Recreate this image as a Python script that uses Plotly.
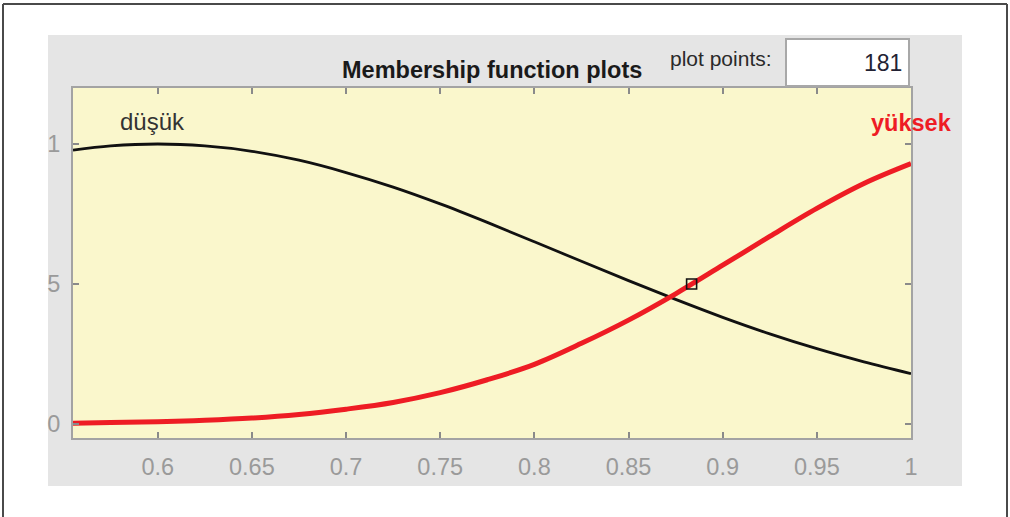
import plotly.graph_objects as go

# Input variable grid and the two membership functions
x_vals = [0.555, 0.575, 0.6, 0.625, 0.65, 0.675, 0.7, 0.725, 0.75, 0.775,
          0.8, 0.825, 0.85, 0.875, 0.9, 0.925, 0.95, 0.975, 1.0]
dusuk = [0.978, 0.993, 1.0, 0.993, 0.974, 0.942, 0.898, 0.846, 0.786, 0.720,
         0.651, 0.581, 0.512, 0.445, 0.381, 0.322, 0.269, 0.222, 0.180]
yuksek = [0.003, 0.005, 0.008, 0.013, 0.021, 0.034, 0.053, 0.077, 0.112, 0.158,
          0.213, 0.288, 0.371, 0.465, 0.567, 0.670, 0.770, 0.859, 0.930]

# Current input point
point_x = [0.8835]
point_y = [0.5]

x_ticks = [0.6, 0.65, 0.7, 0.75, 0.8, 0.85, 0.9, 0.95, 1.0]
x_tick_text = ["0.6", "0.65", "0.7", "0.75", "0.8", "0.85", "0.9", "0.95", "1"]
y_ticks = [0, 0.5, 1]
y_tick_text = ["0", "5", "1"]

FONT = "Liberation Sans, Arial, sans-serif"
PANEL = "#e5e5e5"
PLOT_BG = "#faf7cc"
AXIS_GRAY = "#a3a3a3"

fig = go.Figure()

fig.add_trace(go.Scatter(
    x=x_vals, y=dusuk, mode="lines",
    line=dict(color="#111111", width=2.8, shape="spline", smoothing=1.0),
    hoverinfo="skip", showlegend=False,
))
fig.add_trace(go.Scatter(
    x=x_vals, y=yuksek, mode="lines",
    line=dict(color="#ee1c24", width=5, shape="spline", smoothing=1.0),
    hoverinfo="skip", showlegend=False,
))
fig.add_trace(go.Scatter(
    x=point_x, y=point_y, mode="markers",
    marker=dict(symbol="square-open", size=10, color="#111111",
                line=dict(width=1.6, color="#111111")),
    hoverinfo="skip", showlegend=False,
))

W, H = 1010, 517
L, R, T, B = 73, 911, 88, 438


def px(xp):
    return (xp - L) / (R - L)


def py(yp):
    return (B - yp) / (B - T)


shapes = []
# grey panel behind the axes
shapes.append(dict(type="rect", xref="paper", yref="paper", layer="below",
                   x0=px(48), x1=px(962), y0=py(486), y1=py(35),
                   fillcolor=PANEL, line=dict(width=0)))
# yellow axes background on top of the panel
shapes.append(dict(type="rect", xref="paper", yref="paper", layer="below",
                   x0=0, x1=1, y0=0, y1=1,
                   fillcolor=PLOT_BG, line=dict(width=0)))
# window border (top, left, right)
for (x0, y0, x1, y1) in [(3, 4, 1007, 4), (3, 4, 3, 517), (1007, 4, 1007, 517)]:
    shapes.append(dict(type="line", xref="paper", yref="paper", layer="below",
                       x0=px(x0), x1=px(x1), y0=py(y0), y1=py(y1),
                       line=dict(color="#4a4a4a", width=2)))
# plot-points edit box
shapes.append(dict(type="rect", xref="paper", yref="paper", layer="above",
                   x0=px(786), x1=px(909), y0=py(86), y1=py(39),
                   fillcolor="white", line=dict(color="#a8a8a8", width=2)))

annotations = [
    dict(text="<b>Membership function plots</b>", xref="paper", yref="paper",
         x=px(492), y=py(70), showarrow=False, xanchor="center", yanchor="middle",
         font=dict(family=FONT, size=23.5, color="#1a1a1a")),
    dict(text="plot points:", xref="paper", yref="paper",
         x=px(721), y=py(58), showarrow=False, xanchor="center", yanchor="middle",
         font=dict(family=FONT, size=21, color="#2a2a2a")),
    dict(text="181", xref="paper", yref="paper",
         x=px(904), y=py(63), showarrow=False, xanchor="right", yanchor="middle",
         font=dict(family=FONT, size=23, color="#222233")),
    dict(text="düşük", x=0.597, y=1.079, xref="x", yref="y",
         showarrow=False, xanchor="center", yanchor="middle",
         font=dict(family=FONT, size=24, color="#333333")),
    dict(text="<b>yüksek</b>", x=1.0, y=1.075, xref="x", yref="y",
         showarrow=False, xanchor="center", yanchor="middle",
         font=dict(family=FONT, size=23.5, color="#ee1c24")),
]

fig.update_layout(
    width=W, height=H,
    margin=dict(l=L, r=W - R, t=T, b=H - B, pad=0),
    paper_bgcolor="white",
    plot_bgcolor=PLOT_BG,
    shapes=shapes,
    annotations=annotations,
    showlegend=False,
    xaxis=dict(
        range=[0.555, 1.0], tickvals=x_ticks, ticktext=x_tick_text,
        showgrid=False, zeroline=False,
        showline=True, linecolor=AXIS_GRAY, linewidth=2, mirror="ticks",
        ticks="inside", ticklen=6, tickwidth=1.5, tickcolor="#8a8a8a",
        tickfont=dict(family=FONT, size=23.5, color="#9a9a9a"),
        ticklabelstandoff=7,
    ),
    yaxis=dict(
        range=[-0.05, 1.2], tickvals=y_ticks, ticktext=y_tick_text,
        showgrid=False, zeroline=False,
        showline=True, linecolor=AXIS_GRAY, linewidth=2, mirror="ticks",
        ticks="inside", ticklen=6, tickwidth=1.5, tickcolor="#8a8a8a",
        tickfont=dict(family=FONT, size=23.5, color="#9a9a9a"),
        ticklabelstandoff=6,
    ),
)

fig.write_html("out.html")
